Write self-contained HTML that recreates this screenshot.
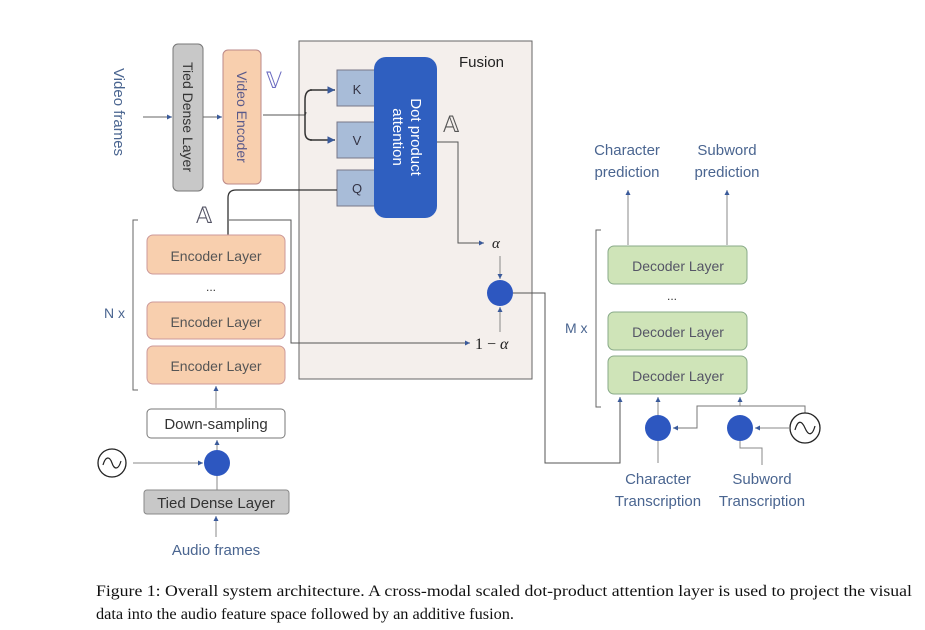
<!DOCTYPE html>
<html><head><meta charset="utf-8"><style>
html,body{margin:0;padding:0;background:#fff;}
svg{display:block;}
.lbl{font-family:"Liberation Sans","DejaVu Sans",sans-serif;fill:#4a6590;}
.box{font-family:"Liberation Sans","DejaVu Sans",sans-serif;}
</style></head><body>
<svg width="925" height="630" viewBox="0 0 925 630" xmlns="http://www.w3.org/2000/svg">
<defs>
<marker id="ar" markerWidth="6" markerHeight="6" refX="5" refY="3" orient="auto"><path d="M0,0.5 L5,3 L0,5.5z" fill="#3a5a9a"/></marker>
</defs>
<!-- Fusion box -->
<rect x="299" y="41" width="233" height="338" fill="#f4efec" stroke="#666" stroke-width="1"/>
<text x="459" y="67" class="box" font-size="15" fill="#222">Fusion</text>

<!-- Video frames -->
<text class="lbl" font-size="15" transform="translate(114,112) rotate(90)" text-anchor="middle">Video frames</text>
<line x1="143" y1="117" x2="172" y2="117" stroke="#666" marker-end="url(#ar)"/>
<rect x="173" y="44" width="30" height="147" rx="5" fill="#c8c8c8" stroke="#777"/>
<text class="box" font-size="14" fill="#333" transform="translate(183,117) rotate(90)" text-anchor="middle">Tied Dense Layer</text>
<line x1="203" y1="117" x2="222" y2="117" stroke="#666" marker-end="url(#ar)"/>
<rect x="223" y="50" width="38" height="134" rx="5" fill="#f8cfae" stroke="#b88"/>
<text class="box" font-size="14" fill="#5a5a8a" transform="translate(237,117) rotate(90)" text-anchor="middle">Video Encoder</text>
<text x="266" y="88" font-size="22" fill="#6a6ac0" font-family="DejaVu Sans,sans-serif">𝕍</text>
<path d="M263,115 H304 Q306,115 306,112" fill="none" stroke="#555"/>
<path d="M312,90 Q305,90 305,100 V132 Q305,140 312,140" fill="none" stroke="#333" stroke-width="1.5"/>
<line x1="310" y1="90" x2="335" y2="90" stroke="#333" stroke-width="1.5" marker-end="url(#ar)"/>
<line x1="310" y1="140" x2="335" y2="140" stroke="#333" stroke-width="1.5" marker-end="url(#ar)"/>

<!-- KVQ -->
<rect x="337" y="70" width="40" height="36" fill="#a8bcd8" stroke="#778"/>
<rect x="337" y="122" width="40" height="36" fill="#a8bcd8" stroke="#778"/>
<rect x="337" y="170" width="40" height="36" fill="#a8bcd8" stroke="#778"/>
<text x="357" y="94" class="box" font-size="13" fill="#334" text-anchor="middle">K</text>
<text x="357" y="145" class="box" font-size="13" fill="#334" text-anchor="middle">V</text>
<text x="357" y="193" class="box" font-size="13" fill="#334" text-anchor="middle">Q</text>
<rect x="374" y="57" width="63" height="161" rx="12" fill="#2f5fc0"/>
<text class="box" font-size="15" fill="#fff" transform="translate(405,137) rotate(90)" text-anchor="middle"><tspan x="0" y="-6">Dot product</tspan><tspan x="0" y="12">attention</tspan></text>
<text x="443" y="132" font-size="22" fill="#555" font-family="DejaVu Sans,sans-serif">𝔸</text>
<path d="M437,142 H458 V243 H484" fill="none" stroke="#555" marker-end="url(#ar)"/>
<text x="492" y="248" font-size="15" font-style="italic" fill="#222" font-family="Liberation Serif,serif">α</text>
<line x1="500" y1="256" x2="500" y2="279" stroke="#888" marker-end="url(#ar)"/>
<line x1="500" y1="332" x2="500" y2="307" stroke="#888" marker-end="url(#ar)"/>
<circle cx="500" cy="293" r="13" fill="#2d57c0"/>
<text x="475" y="349" font-size="16" fill="#222" font-family="Liberation Serif,serif">1 −<tspan font-style="italic"> α</tspan></text>

<!-- Q connection -->
<path d="M337,190 H236 Q228,190 228,198 V235" fill="none" stroke="#333" stroke-width="1.3"/>
<text x="196" y="223" font-size="22" fill="#556" font-family="DejaVu Sans,sans-serif">𝔸</text>
<path d="M229,220 H291 V343 H470" fill="none" stroke="#555" marker-end="url(#ar)"/>

<!-- Encoder stack -->
<path d="M138,220 H133 V390 H138" fill="none" stroke="#666"/>
<text x="104" y="318" class="lbl" font-size="14">N x</text>
<rect x="147" y="235" width="138" height="39" rx="6" fill="#f8cfae" stroke="#c99"/>
<rect x="147" y="302" width="138" height="37" rx="6" fill="#f8cfae" stroke="#c99"/>
<rect x="147" y="346" width="138" height="38" rx="6" fill="#f8cfae" stroke="#c99"/>
<text x="216" y="261" class="box" font-size="14" fill="#555" text-anchor="middle">Encoder Layer</text>
<text x="216" y="327" class="box" font-size="14" fill="#555" text-anchor="middle">Encoder Layer</text>
<text x="216" y="371" class="box" font-size="14" fill="#555" text-anchor="middle">Encoder Layer</text>
<text x="211" y="291" class="box" font-size="12" fill="#333" text-anchor="middle">...</text>
<line x1="216" y1="408" x2="216" y2="386" stroke="#888" marker-end="url(#ar)"/>
<rect x="147" y="409" width="138" height="29" rx="4" fill="#fff" stroke="#777"/>
<text x="216" y="429" class="box" font-size="15" fill="#333" text-anchor="middle">Down-sampling</text>
<line x1="217" y1="450" x2="217" y2="440" stroke="#888" marker-end="url(#ar)"/>
<circle cx="217" cy="463" r="13" fill="#2d57c0"/>
<circle cx="112" cy="463" r="14" fill="#fff" stroke="#222" stroke-width="1.3"/>
<path d="M103,465 C106,455 110,457 112,463 C114,469 118,471 121,461" fill="none" stroke="#222" stroke-width="1.2"/>
<line x1="133" y1="463" x2="203" y2="463" stroke="#888" marker-end="url(#ar)"/>
<line x1="217" y1="490" x2="217" y2="476" stroke="#888"/>
<rect x="144" y="490" width="145" height="24" rx="3" fill="#c8c8c8" stroke="#888"/>
<text x="216" y="508" class="box" font-size="15" fill="#333" text-anchor="middle">Tied Dense Layer</text>
<line x1="216" y1="537" x2="216" y2="516" stroke="#888" marker-end="url(#ar)"/>
<text x="216" y="555" class="lbl" font-size="15" text-anchor="middle">Audio frames</text>

<!-- To decoder -->
<path d="M513,293 H545 V463 H620 V397" fill="none" stroke="#555" marker-end="url(#ar)"/>

<!-- Decoder stack -->
<text x="627" y="155" class="lbl" font-size="15" text-anchor="middle">Character</text>
<text x="627" y="177" class="lbl" font-size="15" text-anchor="middle">prediction</text>
<text x="727" y="155" class="lbl" font-size="15" text-anchor="middle">Subword</text>
<text x="727" y="177" class="lbl" font-size="15" text-anchor="middle">prediction</text>
<line x1="628" y1="245" x2="628" y2="190" stroke="#888" marker-end="url(#ar)"/>
<line x1="727" y1="245" x2="727" y2="190" stroke="#888" marker-end="url(#ar)"/>
<path d="M601,230 H596 V407 H601" fill="none" stroke="#666"/>
<text x="565" y="333" class="lbl" font-size="14">M x</text>
<rect x="608" y="246" width="139" height="38" rx="6" fill="#cfe4b8" stroke="#8a8"/>
<rect x="608" y="312" width="139" height="38" rx="6" fill="#cfe4b8" stroke="#8a8"/>
<rect x="608" y="356" width="139" height="38" rx="6" fill="#cfe4b8" stroke="#8a8"/>
<text x="678" y="271" class="box" font-size="14" fill="#556" text-anchor="middle">Decoder Layer</text>
<text x="678" y="337" class="box" font-size="14" fill="#556" text-anchor="middle">Decoder Layer</text>
<text x="678" y="381" class="box" font-size="14" fill="#556" text-anchor="middle">Decoder Layer</text>
<text x="672" y="300" class="box" font-size="12" fill="#333" text-anchor="middle">...</text>

<circle cx="658" cy="428" r="13" fill="#2d57c0"/>
<circle cx="740" cy="428" r="13" fill="#2d57c0"/>
<line x1="658" y1="415" x2="658" y2="397" stroke="#888" marker-end="url(#ar)"/>
<line x1="740" y1="406" x2="740" y2="397" stroke="#888" marker-end="url(#ar)"/>
<path d="M805,413 V406 H697 V428 H673" fill="none" stroke="#777" marker-end="url(#ar)"/>
<circle cx="805" cy="428" r="15" fill="#fff" stroke="#222" stroke-width="1.3"/>
<path d="M795,430 C798,419 802,421 805,428 C808,435 812,437 815,426" fill="none" stroke="#222" stroke-width="1.2"/>
<line x1="790" y1="428" x2="755" y2="428" stroke="#888" marker-end="url(#ar)"/>
<line x1="658" y1="441" x2="658" y2="463" stroke="#888"/>
<path d="M740,441 V448 H762 V465" fill="none" stroke="#888"/>
<text x="658" y="484" class="lbl" font-size="15" text-anchor="middle">Character</text>
<text x="658" y="506" class="lbl" font-size="15" text-anchor="middle">Transcription</text>
<text x="762" y="484" class="lbl" font-size="15" text-anchor="middle">Subword</text>
<text x="762" y="506" class="lbl" font-size="15" text-anchor="middle">Transcription</text>

<!-- Caption -->
<text x="96" y="596" font-family="Liberation Serif,serif" font-size="16" fill="#111" textLength="816" lengthAdjust="spacingAndGlyphs">Figure 1: Overall system architecture. A cross-modal scaled dot-product attention layer is used to project the visual</text>
<text x="96" y="619" font-family="Liberation Serif,serif" font-size="16" fill="#111" textLength="418" lengthAdjust="spacingAndGlyphs">data into the audio feature space followed by an additive fusion.</text>
</svg>
</body></html>
